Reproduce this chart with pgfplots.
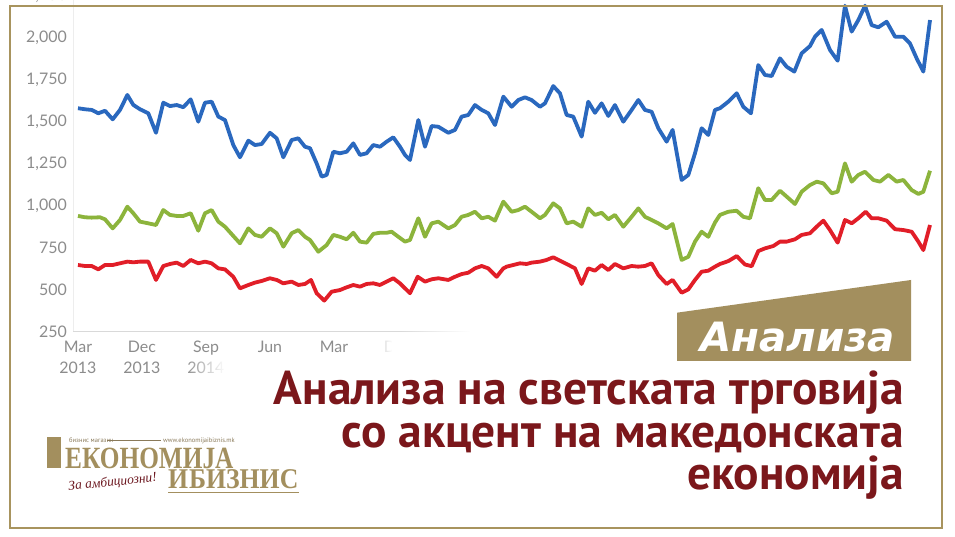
\documentclass[border=0pt]{standalone}
\usepackage{pgfplots}
\pgfplotsset{compat=1.18}
\usepackage{fontspec}
\setmainfont{PT Sans}
\newfontfamily\ticksf{Lato}
\newfontfamily\titlef{PT Sans}
\newfontfamily\bannerf{DejaVu Sans}
\newfontfamily\logof{Liberation Serif}
\usetikzlibrary{fadings}
\definecolor{cblue}{HTML}{2A68BE}
\definecolor{cgreen}{HTML}{8CB43C}
\definecolor{cred}{HTML}{E11E28}
\definecolor{tickgray}{HTML}{8C8C8C}
\definecolor{axisgray}{HTML}{D9D9D9}
\definecolor{framegold}{HTML}{A8945E}
\definecolor{bannergold}{HTML}{A38F5E}
\definecolor{titlered}{HTML}{7B171B}
\definecolor{scriptred}{HTML}{6E1A22}
\definecolor{smallgray}{HTML}{8A7A5A}
\tikzfading[name=fadeinright, left color=transparent!100, right color=transparent!0]
\begin{document}
\begin{tikzpicture}[x=1bp,y=1bp]
\path[use as bounding box] (0,0) rectangle (955,537);
\clip (0,0) rectangle (955,537);
\fill[white] (0,0) rectangle (955,537);
\begin{axis}[at={(73bp,205.3bp)}, anchor=south west, scale only axis,
  width=865.4bp, height=336bp,
  xmin=-0.7, xmax=121, ymin=250, ymax=2250,
  ytick={250,500,...,2250},
  xtick={0,9,18,27,36,45},
  xticklabels={{Mar\\2013},{Dec\\2013},{Sep\\2014},{Jun},{Mar},{Dec}},
  axis line style={draw=none}, major tick length=0pt, tick style={draw=none},
  /pgf/number format/assume math mode=true,
  /pgf/number format/1000 sep={,},
  yticklabel style={font=\ticksf\fontsize{16}{16}\selectfont, text=tickgray, anchor=east, inner sep=0pt, xshift=-6bp},
  xticklabel style={align=center, font=\ticksf\fontsize{16}{21}\selectfont, text=tickgray, anchor=north, inner sep=0pt, yshift=-9bp},
  every axis plot/.append style={line width=3.8bp, line join=round, no markers},
]
\addplot[cblue] coordinates {(0,1580)(0.98,1574)(1.92,1570)(2.86,1550)(3.80,1565)(4.88,1514)(5.91,1570)(6.94,1659)(7.78,1600)(8.72,1574)(9.89,1550)(10.97,1434)(12.0,1613)(12.94,1593)(13.88,1599)(14.81,1586)(15.85,1633)(16.92,1500)(17.86,1613)(18.80,1619)(19.74,1530)(20.67,1510)(21.84,1361)(22.78,1288)(23.96,1387)(24.89,1361)(25.83,1367)(27.0,1434)(27.94,1401)(28.88,1288)(30.05,1391)(30.98,1401)(31.92,1351)(32.63,1342)(33.56,1252)(34.27,1173)(34.97,1183)(35.91,1321)(36.84,1312)(37.78,1321)(38.72,1371)(39.66,1302)(40.59,1312)(41.53,1361)(42.47,1351)(43.41,1381)(44.34,1407)(45.28,1351)(45.99,1302)(46.69,1272)(47.86,1510)(48.80,1351)(49.74,1474)(50.67,1470)(52.08,1434)(53.02,1451)(53.95,1530)(54.89,1540)(55.83,1599)(56.77,1570)(57.70,1550)(58.64,1480)(59.82,1649)(60.98,1589)(61.92,1629)(62.86,1645)(63.79,1629)(64.97,1589)(65.67,1609)(66.84,1712)(67.78,1669)(68.72,1540)(69.65,1530)(70.83,1411)(71.76,1619)(72.70,1553)(73.64,1609)(74.58,1534)(75.51,1599)(76.69,1500)(77.86,1570)(78.80,1629)(79.73,1570)(80.67,1559)(81.61,1461)(82.78,1381)(83.62,1451)(84.89,1153)(85.83,1183)(86.77,1312)(87.70,1461)(88.64,1421)(89.58,1570)(90.28,1580)(91.45,1619)(92.63,1669)(93.56,1589)(94.64,1550)(95.67,1837)(96.61,1778)(97.55,1772)(98.72,1877)(99.66,1827)(100.74,1798)(101.77,1907)(102.94,1950)(103.64,2006)(104.58,2046)(105.75,1927)(106.83,1863)(107.86,2190)(108.80,2036)(109.74,2105)(110.68,2190)(111.61,2075)(112.55,2062)(113.72,2095)(114.90,2006)(116.07,2006)(117.0,1966)(117.94,1877)(118.88,1798)(119.82,2105)};
\addplot[cgreen] coordinates {(0,939)(0.98,931)(1.92,929)(3.09,931)(3.80,919)(4.88,865)(5.91,915)(6.94,994)(7.78,955)(8.72,905)(9.89,895)(10.97,885)(12.0,974)(12.94,945)(13.88,939)(14.81,939)(15.85,955)(16.92,851)(17.86,955)(18.80,974)(19.74,905)(20.67,875)(21.84,820)(22.78,776)(23.96,865)(24.89,826)(25.83,815)(27.0,865)(27.94,836)(28.88,756)(30.05,836)(30.98,855)(31.92,815)(32.63,796)(33.80,726)(34.97,766)(35.91,826)(36.84,815)(37.78,800)(38.72,839)(39.66,786)(40.59,780)(41.53,832)(42.47,839)(43.41,839)(44.11,845)(45.05,815)(45.99,786)(46.69,796)(47.86,925)(48.80,815)(49.74,895)(50.67,905)(52.08,865)(53.02,885)(53.95,934)(54.89,945)(55.83,964)(56.77,925)(57.70,934)(58.64,911)(59.82,1024)(60.98,964)(61.92,974)(62.86,994)(63.79,964)(64.97,925)(65.67,945)(66.84,1014)(67.78,984)(68.72,895)(69.65,905)(70.83,875)(71.76,984)(72.70,945)(73.64,958)(74.58,919)(75.51,945)(76.69,875)(77.86,934)(78.80,984)(79.73,934)(80.67,915)(81.61,895)(82.78,865)(83.62,891)(84.89,677)(85.83,696)(86.77,786)(87.70,845)(88.64,815)(89.58,900)(90.28,945)(91.45,964)(92.63,970)(93.56,934)(94.50,925)(95.67,1104)(96.61,1034)(97.55,1034)(98.72,1089)(99.66,1054)(100.83,1010)(101.77,1083)(102.94,1123)(103.88,1143)(104.82,1133)(105.99,1074)(106.83,1083)(107.86,1252)(108.80,1143)(109.74,1183)(110.68,1202)(111.85,1153)(112.79,1143)(113.96,1183)(115.13,1143)(116.07,1153)(117.24,1093)(118.18,1070)(118.88,1083)(119.82,1208)};
\addplot[cred] coordinates {(0,647)(0.98,641)(1.92,641)(2.86,621)(3.80,647)(4.88,647)(5.91,657)(6.94,667)(7.78,663)(8.72,667)(9.89,667)(10.97,558)(12.0,641)(12.94,653)(13.88,661)(14.81,641)(15.85,677)(16.92,657)(17.86,667)(18.80,657)(19.74,627)(20.67,621)(21.84,577)(22.78,508)(23.96,528)(24.89,542)(25.83,552)(27.0,568)(27.94,558)(28.88,538)(30.05,548)(30.98,528)(31.92,534)(32.77,558)(33.56,479)(34.64,435)(35.67,488)(36.84,498)(37.78,514)(38.72,528)(39.66,518)(40.59,534)(41.53,538)(42.47,528)(43.41,548)(44.34,568)(45.28,538)(45.99,508)(46.69,479)(47.77,577)(48.80,548)(49.74,562)(50.67,568)(52.08,558)(53.02,577)(53.95,593)(54.89,601)(55.83,627)(56.77,641)(57.70,627)(58.88,577)(59.82,627)(60.28,637)(61.22,647)(62.15,657)(63.09,653)(63.79,661)(64.97,667)(65.90,677)(66.84,693)(67.78,673)(68.72,653)(69.89,627)(70.83,534)(71.76,627)(72.70,613)(73.64,647)(74.58,617)(75.51,653)(76.69,627)(77.86,641)(78.80,637)(79.73,641)(80.67,657)(81.61,587)(82.78,534)(83.62,558)(84.89,482)(85.83,502)(86.77,558)(87.70,607)(88.64,613)(89.58,637)(90.28,653)(91.45,670)(92.63,700)(93.80,650)(94.74,640)(95.67,730)(96.61,746)(97.78,760)(98.72,786)(99.66,786)(100.83,800)(101.77,826)(102.94,836)(103.88,875)(104.82,911)(105.75,855)(106.83,780)(107.86,915)(108.80,895)(109.74,925)(110.77,964)(111.61,925)(112.55,925)(113.72,911)(114.90,860)(116.07,855)(117.24,845)(118.18,786)(118.88,736)(119.82,885)};
\end{axis}
\begin{scope}[yshift=537bp, y=-1bp]
% axis lines
\draw[color=black!7, line width=1bp] (73,0) -- (73,331.7);
\draw[axisgray, line width=1.2bp] (73,331.7) -- (475,331.7);
% fades over the lower right of the chart
\fill[white, path fading=fadeinright] (400,326) rectangle (470,340);
\fill[white] (470,326) rectangle (955,340);
\fill[white, path fading=fadeinright] (362,340) rectangle (392,356);
\fill[white] (392,340) rectangle (955,356);
\fill[white, path fading=fadeinright] (185,356) rectangle (225,400);
\fill[white] (225,356) rectangle (955,400);
% banner
\fill[bannergold] (677,312.7) -- (911,280) -- (911,361) -- (677,361) -- cycle;
\node[anchor=base west, inner sep=0pt, text=white] at (700,351.7)
  {\resizebox{195bp}{!}{\bannerf\fontsize{44}{44}\selectfont\bfseries\itshape Анализа}};
% title
\node[anchor=base east, inner sep=0pt, text=titlered] at (904,405)
  {\titlef\fontsize{47.6}{47.6}\selectfont\bfseries Анализа на светската трговија};
\node[anchor=base east, inner sep=0pt, text=titlered] at (904,447.3)
  {\titlef\fontsize{47.6}{47.6}\selectfont\bfseries со акцент на македонската};
\node[anchor=base east, inner sep=0pt, text=titlered] at (904,490)
  {\titlef\fontsize{47.6}{47.6}\selectfont\bfseries економија};
% logo
\fill[bannergold] (47,437) rectangle (61,468.3);
\node[anchor=base west, inner sep=0pt, text=bannergold] at (65,468.3)
  {\scalebox{0.82}[1]{\logof\fontsize{31}{31}\selectfont\bfseries ЕКОНОМИЈА}};
\node[anchor=base west, inner sep=0pt, text=bannergold] at (168,489)
  {\scalebox{0.9}[1]{\logof\fontsize{28.7}{28.7}\selectfont\bfseries И\kern1bp БИЗНИС}};
\draw[bannergold, line width=0.6bp] (168,492.5) -- (299,492.5);
\node[anchor=base west, inner sep=0pt, text=smallgray] at (69,443)
  {\fontsize{6.5}{6.5}\selectfont бизнис магазин};
\draw[smallgray, line width=0.5bp] (107,440.5) -- (161,440.5);
\node[anchor=base west, inner sep=0pt, text=smallgray] at (163,443)
  {\fontsize{6.5}{6.5}\selectfont www.ekonomijaibiznis.mk};
\node[anchor=base, inner sep=0pt, text=scriptred, rotate=6] at (113,486)
  {\logof\fontsize{13.5}{13.5}\selectfont\itshape За амбициозни!};
% frame
\draw[framegold, line width=2bp] (9.5,6) rectangle (942,528.5);
\end{scope}
\end{tikzpicture}
\end{document}
